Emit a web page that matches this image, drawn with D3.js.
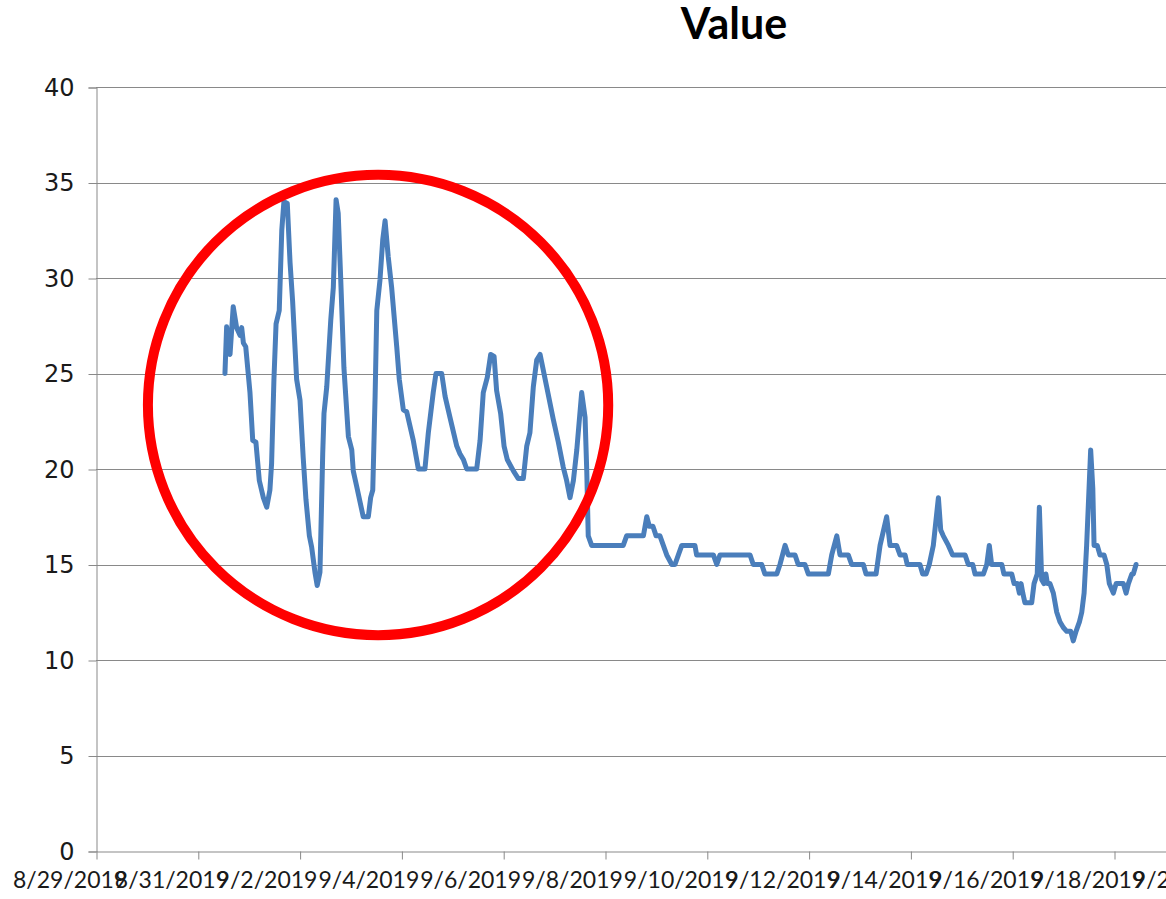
<!DOCTYPE html>
<html>
<head>
<meta charset="utf-8">
<script src="https://cdn.jsdelivr.net/npm/d3@7/dist/d3.min.js"></script>
<style>
  html, body { margin: 0; padding: 0; background: #ffffff; }
  svg { display: block; }
</style>
</head>
<body>
<svg id="chart" width="1166" height="899"></svg>
<script>
// Readings: hours elapsed since the series origin, and the measured value
const seriesOrigin = "2019-08-29T00:00";
const elapsedHours = [
  60.8, 61.6, 63.2, 64.7, 66.3, 67.9, 68.7, 69.5, 70.6, 72.6,
  73.9, 75.4, 77.0, 78.9, 80.5, 82.0, 82.8, 83.9, 84.9, 86.4,
  87.6, 88.6, 90.2, 91.5, 92.7, 94.6, 96.2, 97.7, 99.0, 100.6,
  101.7, 103.3, 104.3, 105.6, 106.9, 107.5, 108.8, 110.7, 111.9, 113.2,
  114.2, 115.4, 116.9, 119.0, 120.6, 121.3, 122.9, 126.0, 128.4, 129.5,
  130.5, 131.6, 132.4, 133.9, 135.2, 136.3, 137.8, 139.4, 141.8, 143.0,
  144.9, 146.5, 149.6, 152.0, 155.1, 156.7, 159.0, 160.3, 163.0, 164.6,
  166.9, 170.1, 171.6, 173.2, 174.8, 179.5, 181.1, 182.6, 184.5, 186.1,
  187.7, 188.9, 190.8, 192.4, 193.9, 196.8, 199.1, 201.5, 203.1, 204.6,
  206.2, 207.8, 209.4, 212.5, 215.6, 218.0, 220.3, 221.9, 223.5, 225.1,
  226.7, 229.0, 230.6, 231.4, 232.1, 233.7, 248.6, 250.2, 258.1, 259.7,
  260.9, 262.6, 264.1, 265.9, 267.5, 269.1, 271.5, 273.0, 274.6, 276.2,
  282.4, 283.2, 291.1, 292.7, 294.2, 308.4, 309.9, 313.9, 315.4, 321.0,
  322.5, 324.9, 326.4, 329.6, 331.1, 334.3, 335.9, 345.3, 346.9, 349.3,
  350.8, 354.7, 356.3, 361.8, 363.1, 367.8, 369.7, 372.8, 374.4, 377.5,
  379.1, 381.5, 382.5, 388.5, 389.8, 391.4, 392.9, 394.8, 397.2, 398.3,
  399.5, 401.9, 403.9, 409.8, 411.3, 413.4, 414.5, 418.4, 420.0, 421.2,
  422.3, 427.1, 428.1, 431.8, 432.9, 434.4, 435.4, 436.2, 437.0, 438.0,
  441.2, 442.3, 443.8, 444.8, 445.9, 447.0, 447.9, 448.6, 449.8, 451.4,
  453.0, 454.5, 456.1, 457.7, 459.6, 460.8, 462.1, 463.7, 464.8, 465.9,
  467.1, 469.0, 470.0, 470.6, 472.1, 473.4, 475.3, 476.6, 477.8, 479.7,
  481.0, 484.4, 485.7, 486.8, 488.4, 489.1, 490.4
];
const readingValues = [
  25.0, 27.45, 26.0, 28.5, 27.4, 27.0, 27.4, 26.6, 26.4, 24.0,
  21.5, 21.4, 19.4, 18.5, 18.0, 18.9, 20.3, 24.7, 27.6, 28.3,
  32.5, 34.0, 33.9, 30.8, 28.8, 24.7, 23.6, 20.6, 18.4, 16.5,
  15.9, 14.55, 13.9, 14.6, 20.8, 22.9, 24.3, 27.8, 29.5, 34.1,
  33.4, 29.9, 25.3, 21.7, 21.0, 19.9, 19.1, 17.5, 17.5, 18.5,
  18.9, 23.8, 28.3, 29.9, 32.0, 33.0, 31.1, 29.5, 26.4, 24.7,
  23.1, 23.0, 21.5, 20.0, 20.0, 21.9, 24.0, 25.0, 25.0, 23.8,
  22.7, 21.2, 20.8, 20.5, 20.0, 20.0, 21.5, 24.0, 24.8, 26.0,
  25.9, 24.1, 22.9, 21.2, 20.5, 19.9, 19.5, 19.5, 21.2, 21.9,
  24.3, 25.7, 26.0, 24.3, 22.6, 21.4, 20.1, 19.4, 18.5, 19.4,
  21.0, 24.0, 22.7, 19.9, 16.5, 16.0, 16.0, 16.5, 16.5, 17.5,
  17.0, 17.0, 16.5, 16.5, 16.0, 15.5, 15.0, 15.0, 15.5, 16.0,
  16.0, 15.5, 15.5, 15.0, 15.5, 15.5, 15.0, 15.0, 14.5, 14.5,
  15.0, 16.0, 15.5, 15.5, 15.0, 15.0, 14.5, 14.5, 15.5, 16.5,
  15.5, 15.5, 15.0, 15.0, 14.5, 14.5, 16.0, 17.5, 16.0, 16.0,
  15.5, 15.5, 15.0, 15.0, 14.5, 14.5, 15.0, 16.0, 18.5, 16.8,
  16.5, 16.0, 15.5, 15.5, 15.0, 15.0, 14.5, 14.5, 15.0, 16.0,
  15.0, 15.0, 14.5, 14.5, 14.0, 14.0, 13.5, 14.0, 13.5, 13.0,
  13.0, 14.0, 14.5, 18.0, 14.2, 14.0, 14.5, 14.0, 14.0, 13.5,
  12.5, 12.0, 11.7, 11.5, 11.5, 11.0, 11.5, 12.0, 12.5, 13.5,
  16.0, 21.0, 19.0, 16.0, 16.0, 15.5, 15.5, 15.0, 14.0, 13.5,
  14.0, 14.0, 13.5, 14.0, 14.5, 14.5, 15.0
];

// Axis settings
const xDomain = ["2019-08-29", "2019-09-20"];
const xTickDates = [
  "2019-08-29", "2019-08-31", "2019-09-02", "2019-09-04", "2019-09-06", "2019-09-08",
  "2019-09-10", "2019-09-12", "2019-09-14", "2019-09-16", "2019-09-18", "2019-09-20"
];
const yTickValues = [0, 5, 10, 15, 20, 25, 30, 35, 40];
const chartTitle = "Value";

// Highlighted region (centre in data units, radius in value units)
const highlightCentre = { time: "2019-09-03T13:00", value: 23.35 };
const highlightRadius = 12.05;

(function drawChart() {
  const parseIso = d3.isoParse;
  const origin = parseIso(seriesOrigin);
  const readings = elapsedHours.map((h, i) => ({
    date: new Date(origin.getTime() + h * 3600 * 1000),
    value: readingValues[i]
  }));

  const svg = d3.select("#chart");
  const W = 1166, H = 899;
  const plotLeft = 96, plotTop = 87, plotBottom = 851;
  const pxPerDay = 50.9;

  const x = d3.scaleTime()
    .domain(xDomain.map(d => parseIso(d)))
    .range([plotLeft, plotLeft + 22 * pxPerDay]);
  const y = d3.scaleLinear().domain([0, 40]).range([plotBottom, plotTop]);

  const gridColor = "#898989";

  svg.append("rect").attr("width", W).attr("height", H).attr("fill", "#ffffff");

  // Horizontal gridlines
  svg.append("g")
    .selectAll("line")
    .data(yTickValues.filter(v => v > 0))
    .join("line")
    .attr("x1", plotLeft).attr("x2", x.range()[1])
    .attr("y1", d => Math.round(y(d)) + 0.5).attr("y2", d => Math.round(y(d)) + 0.5)
    .attr("stroke", gridColor).attr("stroke-width", 1);

  // Y axis
  const yAxis = d3.axisLeft(y).tickValues(yTickValues).tickSize(8).tickPadding(14);
  const gy = svg.append("g")
    .attr("transform", `translate(${plotLeft + 0.5},0.5)`)
    .call(yAxis);
  gy.select(".domain").attr("stroke", gridColor);
  gy.selectAll(".tick line").attr("stroke", gridColor);
  gy.selectAll(".tick text")
    .attr("fill", "#1a1a1a")
    .style("font-family", "'DejaVu Sans', sans-serif")
    .style("font-size", "24px");

  // X axis
  const fmt = d3.timeFormat("%-m/%-d/%Y");
  const xAxis = d3.axisBottom(x)
    .tickValues(xTickDates.map(d => parseIso(d)))
    .tickFormat(fmt)
    .tickSize(8)
    .tickSizeOuter(0);
  const gx = svg.append("g")
    .attr("transform", `translate(0.5,${Math.round(plotBottom) + 0.5})`)
    .call(xAxis);
  gx.select(".domain").attr("stroke", gridColor);
  gx.selectAll(".tick line").attr("stroke", gridColor);
  gx.selectAll(".tick text")
    .attr("fill", "#1a1a1a")
    .attr("text-anchor", "start")
    .attr("x", -84)
    .attr("y", 20)
    .attr("dy", "0.71em")
    .style("font-family", "Lato, 'DejaVu Sans', sans-serif")
    .style("font-size", "23px");

  // Series line
  const line = d3.line()
    .x(d => x(d.date))
    .y(d => y(d.value));
  svg.append("path")
    .datum(readings)
    .attr("d", line)
    .attr("fill", "none")
    .attr("stroke", "#4a7ebb")
    .attr("stroke-width", 5)
    .attr("stroke-linejoin", "round")
    .attr("stroke-linecap", "round");

  // Highlight ring
  svg.append("circle")
    .attr("cx", x(parseIso(highlightCentre.time)))
    .attr("cy", y(highlightCentre.value))
    .attr("r", y(0) - y(highlightRadius))
    .attr("fill", "none")
    .attr("stroke", "#ff0000")
    .attr("stroke-width", 10);

  // Title
  svg.append("text")
    .attr("x", 734)
    .attr("y", 39)
    .attr("text-anchor", "middle")
    .attr("fill", "#000000")
    .style("font-family", "Lato, 'Liberation Sans', sans-serif")
    .style("font-weight", "bold")
    .style("font-size", "43px")
    .text(chartTitle);
})();
</script>
</body>
</html>
